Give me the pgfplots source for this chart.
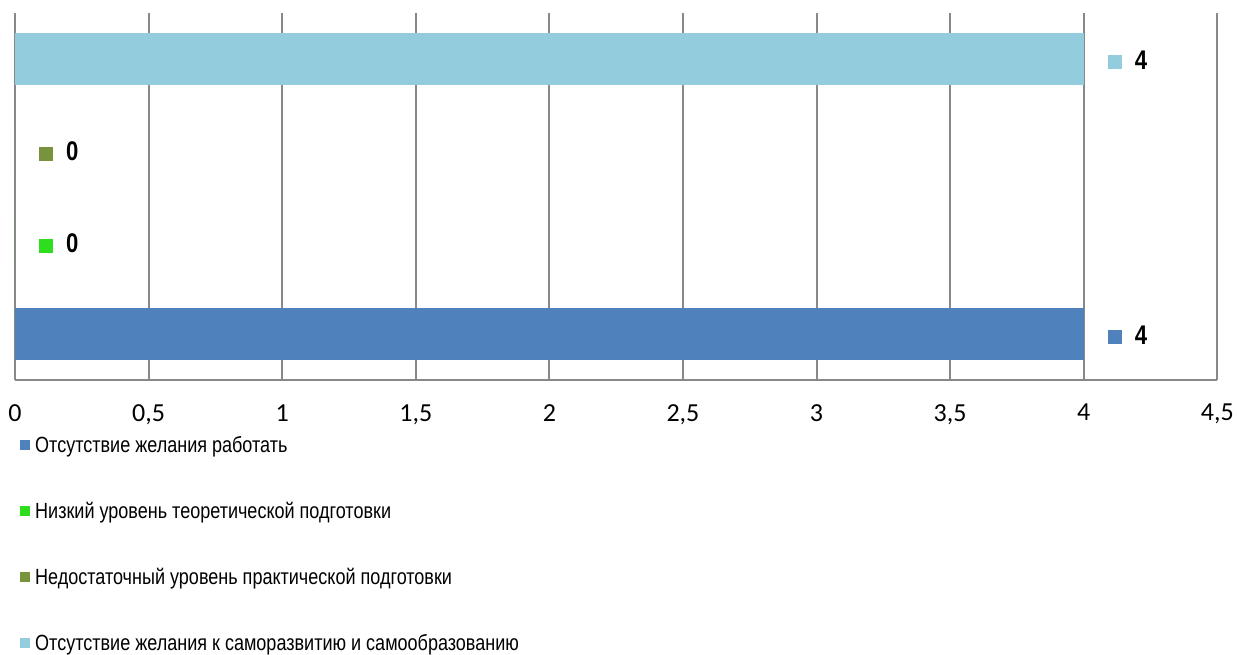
\documentclass[border=0pt]{standalone}
\usepackage{fontspec}
\usepackage{pgfplots}
\pgfplotsset{compat=1.18}
\newfontfamily\narrowfont{Liberation Sans}[FakeStretch=0.82]
\newfontfamily\tickfont{Carlito}
\definecolor{c1}{HTML}{4F81BD}
\definecolor{c2}{HTML}{2EDD1E}
\definecolor{c3}{HTML}{77933C}
\definecolor{c4}{HTML}{93CDDD}
\definecolor{gridc}{HTML}{888888}
\begin{document}
\begin{tikzpicture}
\begin{axis}[
  name=ax,
  scale only axis,
  width=1203bp, height=367bp,
  xmin=0, xmax=4.5, ymin=0.5, ymax=4.5,
  xtick={0,0.5,...,4.5},
  ytick=\empty,
  axis x line*=bottom, axis y line*=left,
  axis line style={draw=gridc, line width=2bp, -},
  xmajorgrids, major grid style={draw=gridc, line width=2bp},
  major tick length=0pt,
  /pgf/number format/use comma,
  /pgf/number format/assume math mode=true,
  xticklabel style={font=\tickfont\fontsize{26bp}{30bp}\selectfont, anchor=north, yshift=-21bp},
  legend style={draw=none, fill=none, at={(axis description cs:0,0)}, anchor=north west,
    xshift=5bp, yshift=-54bp, inner sep=0pt, row sep=44.5bp, column sep=3bp,
    font=\narrowfont\fontsize{22bp}{25bp}\selectfont},
  legend cell align=left,
  legend image code/.code={\fill[#1] (0bp,-5bp) rectangle (10bp,5bp);},
  nodes near coords style={anchor=west, xshift=23bp, yshift=-1bp, inner sep=1bp, font=\narrowfont\bfseries\fontsize{27bp}{30bp}\selectfont},
]
\addplot[xbar, bar shift=0pt, bar width=52bp, fill=c1, draw=none,
  nodes near coords={{\color{c1}\rule[0bp]{14bp}{14bp}}\hspace{13bp}\pgfmathprintnumber{\pgfplotspointmeta}}]
  coordinates {(4,1)};
\addlegendentry{Отсутствие желания работать}
\addplot[xbar, bar shift=0pt, bar width=52bp, fill=c2, draw=none,
  nodes near coords={{\color{c2}\rule[0bp]{14bp}{14bp}}\hspace{13bp}\pgfmathprintnumber{\pgfplotspointmeta}}]
  coordinates {(0,2)};
\addlegendentry{Низкий уровень теоретической подготовки}
\addplot[xbar, bar shift=0pt, bar width=52bp, fill=c3, draw=none,
  nodes near coords={{\color{c3}\rule[0bp]{14bp}{14bp}}\hspace{13bp}\pgfmathprintnumber{\pgfplotspointmeta}}]
  coordinates {(0,3)};
\addlegendentry{Недостаточный уровень практической подготовки}
\addplot[xbar, bar shift=0pt, bar width=52bp, fill=c4, draw=none,
  nodes near coords={{\color{c4}\rule[0bp]{14bp}{14bp}}\hspace{13bp}\pgfmathprintnumber{\pgfplotspointmeta}}]
  coordinates {(4,4)};
\addlegendentry{Отсутствие желания к саморазвитию и самообразованию}
\end{axis}
\path[use as bounding box] ([shift={(-15bp,-271bp)}]ax.south west) rectangle ([shift={(19bp,13bp)}]ax.north east);
\end{tikzpicture}
\end{document}
